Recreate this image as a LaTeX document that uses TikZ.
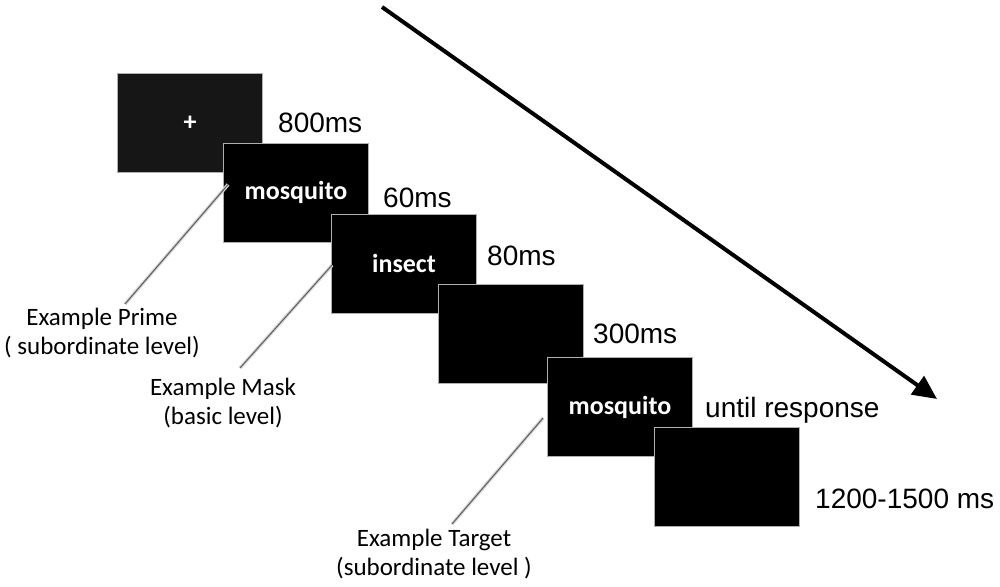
\documentclass[tikz,border=0pt]{standalone}
\usepackage{fontspec}
\setmainfont{Liberation Sans}
\newfontfamily\calibri{Carlito}
\usepackage{xcolor}
\definecolor{grisborde}{RGB}{175,175,175}
\definecolor{grislinea}{RGB}{90,90,90}
\definecolor{grissombra}{RGB}{215,215,215}
\definecolor{negrofix}{RGB}{22,22,22}
\usepackage{tikz}
\usetikzlibrary{positioning, arrows.meta}

\begin{document}
\begin{tikzpicture}[x=1pt, y=-1pt,
    pantalla/.style={draw=grisborde, line width=0.8pt, fill=black, minimum width=145pt, minimum height=99pt, inner sep=0pt, text=white, font=\calibri\bfseries\fontsize{26}{30}\selectfont},
    tiempo/.style={anchor=base west, inner sep=0pt, font=\fontsize{28}{34}\selectfont},
    ejemplo/.style={anchor=north, align=center, inner sep=0pt, font=\calibri\fontsize{25}{29}\selectfont},
    guia/.style={draw=grislinea, line width=1pt, preaction={draw=grissombra, line width=3.5pt}}]
  \useasboundingbox (0,0) rectangle (1000,586);

  % Pantallas
  \node[pantalla, fill=negrofix] (fijacion) at (190,123) {+};
  \node[pantalla] (prime) at (296,192.5) {mosquito};
  \node[pantalla] (mask) at (404,263.5) {insect};
  \node[pantalla] (blanco) at (510.5,333.5) {};
  \node[pantalla] (target) at (620,407) {mosquito};
  \node[pantalla] (respuesta) at (727,476.5) {};

  % Tiempos
  \node[tiempo] (t800) at (278,132) {800ms};
  \node[tiempo] (t60) at (383,207) {60ms};
  \node[tiempo] (t80) at (487,265) {80ms};
  \node[tiempo] (t300) at (593,343) {300ms};
  \node[tiempo] (tresp) at (705,417) {until response};
  \node[tiempo] (tfinal) at (815,508) {1200-1500 ms};

  % Etiquetas de ejemplo
  \node[ejemplo] (eprime) at (102,308) {Example Prime\\( subordinate level)};
  \node[ejemplo] (emask) at (223,378) {Example Mask\\(basic level)};
  \node[ejemplo] (etarget) at (434,529) {Example Target\\(subordinate level )};

  % Lineas guia
  \draw[guia] ([xshift=5pt, yshift=8pt]prime.west) -- ([xshift=23pt, yshift=4pt]eprime.north);
  \draw[guia] ([xshift=1pt, yshift=-1.5pt]mask.west) -- ([xshift=17pt, yshift=10pt]emask.north);
  \draw[guia] ([xshift=-4pt, yshift=-11pt]target.west) -- ([xshift=18pt, yshift=5pt]etarget.north);

  % Flecha del tiempo
  \coordinate (inicio) at (382,7);
  \coordinate (fin) at (937,399);
  \draw[line width=4pt, -{Triangle[length=24pt, width=22pt]}] (inicio) -- (fin);
\end{tikzpicture}
\end{document}
